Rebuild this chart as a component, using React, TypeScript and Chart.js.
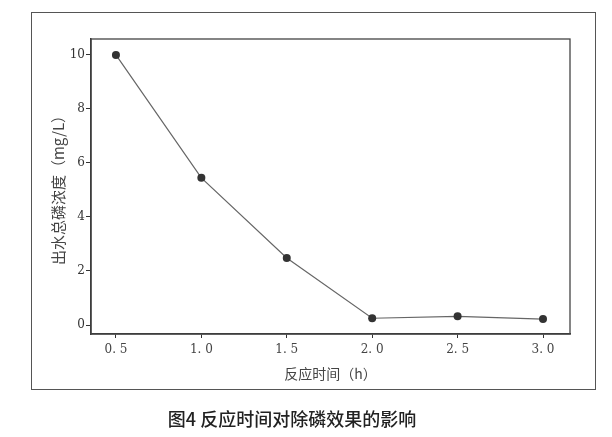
import React, { useEffect, useRef } from "react";
import { Chart, registerables } from "chart.js";

Chart.register(...registerables);

// Reaction time (h) and effluent total phosphorus (mg/L)
const reactionTimes = [0.5, 1.0, 1.5, 2.0, 2.5, 3.0];
const phosphorus = [10.0, 5.45, 2.48, 0.25, 0.32, 0.22];

const xTicks = [0.5, 1.0, 1.5, 2.0, 2.5, 3.0];
const xTickLabels = ["0. 5", "1. 0", "1. 5", "2. 0", "2. 5", "3. 0"];
const yTicks = [0, 2, 4, 6, 8, 10];
const yTickLabels = ["0", "2", "4", "6", "8", "10"];

const xTitle = "反应时间（h）";
const yTitle = "出水总磷浓度（mg/L）";
const caption = "图4 反应时间对除磷效果的影响";

const CJK = '"Noto Sans CJK SC", "Noto Sans", sans-serif';
const SERIF = '"DejaVu Serif", "Liberation Serif", serif';

// Outlines the top and right edges of the plot area (left/bottom come from the axes)
const plotFrame = {
  id: "plotFrame",
  beforeDatasetsDraw(chart: any) {
    const { ctx, chartArea } = chart;
    ctx.save();
    ctx.strokeStyle = "#444";
    ctx.lineWidth = 1.3;
    ctx.strokeRect(
      chartArea.left,
      chartArea.top,
      chartArea.right - chartArea.left,
      chartArea.bottom - chartArea.top
    );
    ctx.restore();
  },
};

export default function App() {
  const canvasRef = useRef<HTMLCanvasElement | null>(null);

  useEffect(() => {
    const canvas = canvasRef.current;
    if (!canvas) return;
    const chart = new Chart(canvas, {
      type: "line",
      data: {
        datasets: [
          {
            data: reactionTimes.map((t, i) => ({ x: t, y: phosphorus[i] })),
            borderColor: "#666",
            borderWidth: 1.2,
            pointRadius: 4,
            pointBackgroundColor: "#333",
            pointBorderColor: "#333",
            pointBorderWidth: 0,
            tension: 0,
          },
        ],
      },
      options: {
        responsive: false,
        animation: false,
        events: [],
        layout: { padding: { left: 49, top: 39, right: 42, bottom: 54 } },
        plugins: { legend: { display: false }, tooltip: { enabled: false } },
        scales: {
          x: {
            type: "linear",
            min: 0.354,
            max: 3.158,
            afterBuildTicks: (scale: any) => {
              scale.ticks = xTicks.map((v) => ({ value: v }));
            },
            afterFit: (scale: any) => {
              scale.height = 49;
            },
            ticks: {
              autoSkip: false,
              maxRotation: 0,
              padding: 5,
              color: "#444",
              font: { family: SERIF, size: 12 },
              callback: (_v: any, i: number) => xTickLabels[i],
            },
            grid: {
              drawOnChartArea: false,
              drawTicks: true,
              tickLength: 4,
              tickColor: "#333",
            },
            border: { display: true, color: "#333", width: 1.5 },
            title: {
              display: true,
              text: xTitle,
              color: "#444",
              font: { family: CJK, size: 14 },
              padding: { top: 0, bottom: 1 },
            },
          },
          y: {
            type: "linear",
            min: -0.333,
            max: 10.59,
            afterBuildTicks: (scale: any) => {
              scale.ticks = yTicks.map((v) => ({ value: v }));
            },
            afterFit: (scale: any) => {
              scale.width = 42;
            },
            ticks: {
              autoSkip: false,
              padding: 1,
              color: "#333",
              font: { family: SERIF, size: 12 },
              callback: (_v: any, i: number) => yTickLabels[i],
            },
            grid: {
              drawOnChartArea: false,
              drawTicks: true,
              tickLength: 5,
              tickColor: "#333",
            },
            border: { display: true, color: "#333", width: 1.5 },
            title: {
              display: true,
              text: yTitle,
              color: "#444",
              font: { family: CJK, size: 15 },
              padding: { top: 0, bottom: 0 },
            },
          },
        },
      },
      plugins: [plotFrame],
    });
    return () => chart.destroy();
  }, []);

  return (
    <div
      style={{
        position: "fixed",
        left: 0,
        top: 0,
        width: 612,
        height: 437,
        background: "#ffffff",
        overflow: "hidden",
      }}
    >
      <div
        style={{
          position: "absolute",
          left: 31,
          top: 12,
          width: 563,
          height: 376,
          border: "1.5px solid #555",
        }}
      />
      <canvas
        ref={canvasRef}
        width={612}
        height={437}
        style={{ position: "absolute", left: 0, top: 0 }}
      />
      <div
        style={{
          position: "absolute",
          left: 0,
          width: 584,
          top: 405,
          textAlign: "center",
          fontFamily: CJK,
          fontSize: 18,
          fontWeight: 500,
          color: "#222",
          lineHeight: "26px",
        }}
      >
        {caption}
      </div>
    </div>
  );
}
